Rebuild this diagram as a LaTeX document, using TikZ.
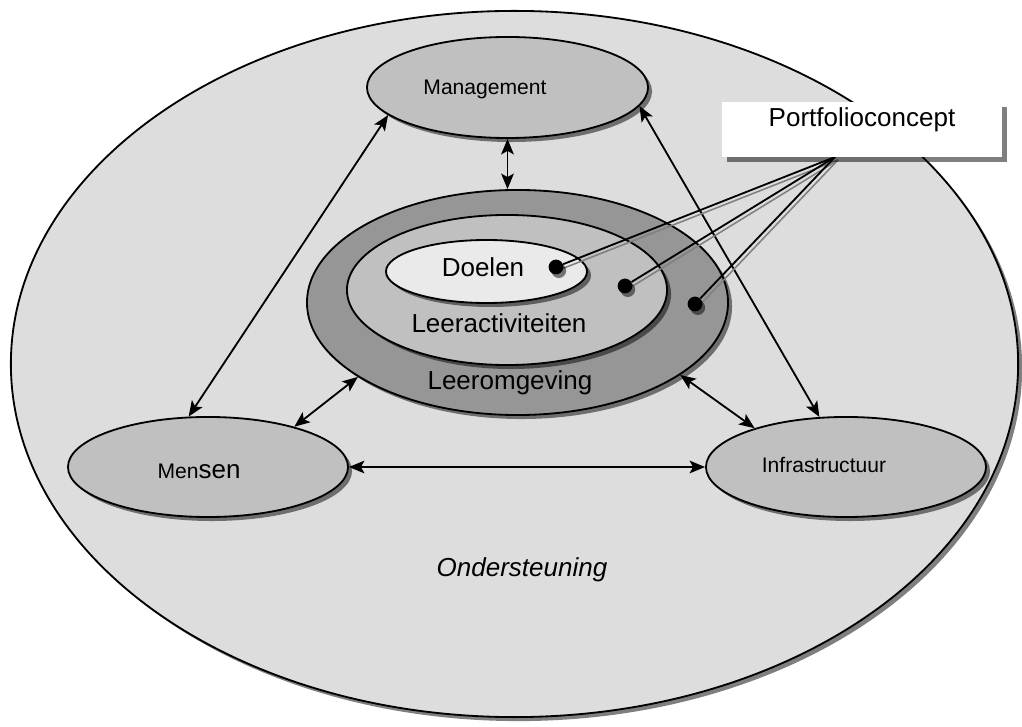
\documentclass[tikz,border=0pt]{standalone}
\usepackage{fontspec}
\setmainfont{Liberation Sans}
\usetikzlibrary{shapes.geometric,shadows,arrows.meta}

\definecolor{supportgray}{HTML}{DDDDDD}
\definecolor{satellitegray}{HTML}{C0C0C0}
\definecolor{omgevinggray}{HTML}{969696}
\definecolor{doelgray}{HTML}{EAEAEA}

\begin{document}
\begin{tikzpicture}[x=0.025cm,y=-0.025cm,
    every node/.style={inner sep=0pt},
    castshadow/.style={drop shadow={shadow xshift=0.1cm,shadow yshift=-0.1cm,fill=black,opacity=.5}},
    zone/.style={ellipse,draw,line width=1.3pt,castshadow},
    bigtext/.style={font=\fontsize{18.5}{22}\selectfont},
    smalltext/.style={font=\fontsize{15}{18}\selectfont},
    relation/.style={{Stealth[length=11pt,width=9pt,inset=2.5pt]}-{Stealth[length=11pt,width=9pt,inset=2.5pt]},line width=1.3pt},
    conceptdot/.style={circle,fill=black,minimum size=0.37cm,
      drop shadow={shadow xshift=0.07cm,shadow yshift=-0.09cm,fill=black,opacity=.5}},
    pointer/.style={line width=1.3pt},
    pointershade/.style={line width=1.1pt,black!50},
    conceptbox/.style={rectangle,fill=white,minimum width=7cm,minimum height=1.375cm,
      drop shadow={shadow xshift=0.125cm,shadow yshift=-0.125cm,fill=black,opacity=.5}}]
\fill[white] (0,0) rectangle (1022,727);
\useasboundingbox (0,0) rectangle (1022,727);

\node[zone,fill=supportgray,minimum width=25.175cm,minimum height=17.65cm] (support) at (514.5,364) {};
\node[zone,fill=satellitegray,minimum width=7.025cm,minimum height=2.525cm] (management) at (507.5,87.5) {};
\node[zone,fill=satellitegray,minimum width=7cm,minimum height=2.5cm] (mensen) at (208,467) {};
\node[zone,fill=satellitegray,minimum width=7cm,minimum height=2.5cm] (infra) at (846,467) {};
\node[zone,fill=omgevinggray,minimum width=10.525cm,minimum height=5.625cm] (omgeving) at (517.5,302.5) {};
\node[zone,fill=satellitegray,minimum width=8cm,minimum height=3.75cm] (activiteiten) at (507,290) {};
\node[zone,fill=doelgray,minimum width=5.025cm,minimum height=1.575cm] (doelen) at (486.5,271.5) {};

\draw[relation] (management) -- (management |- omgeving.north);
\draw[relation] (management.193) -- (mensen.111);
\draw[relation] (infra.118) -- (management.352);
\draw[relation] (mensen.25) -- (omgeving.205);
\draw[relation] (infra.157) -- (omgeving.336);
\draw[relation] (mensen) -- (infra);

\node[smalltext,anchor=base] (managementlabel) at (485,95) {Management};
\node[smalltext,anchor=base] (mensenlabel) at (199,479) {Men{\fontsize{18.5}{22}\selectfont sen}};
\node[smalltext,anchor=base] (infralabel) at (824,473) {Infrastructuur};
\node[bigtext,anchor=base] (doelenlabel) at (483,277) {Doelen};
\node[bigtext,anchor=base] (activiteitenlabel) at (499,333) {Leeractiviteiten};
\node[bigtext,anchor=base] (omgevinglabel) at (510,390) {Leeromgeving};
\node[bigtext,anchor=base] (supportlabel) at (522,577) {\itshape Ondersteuning};

\coordinate (hub) at (835,157);
\coordinate (p1) at (556,267);
\coordinate (p2) at (625,286);
\coordinate (p3) at (695,304);
\foreach \p in {p1,p2,p3}
  \draw[pointershade] ([shift={(3,3)}]\p) -- ([shift={(3,3)}]hub);
\foreach \p in {1,2,3}{
  \node[conceptdot] (dot\p) at (p\p) {};
  \draw[pointer] (dot\p) -- (hub);
}

\node[conceptbox] (portfolio) at (862,129.5) {};
\node[bigtext,anchor=base] (portfoliolabel) at (862,127) {Portfolioconcept};
\end{tikzpicture}
\end{document}
